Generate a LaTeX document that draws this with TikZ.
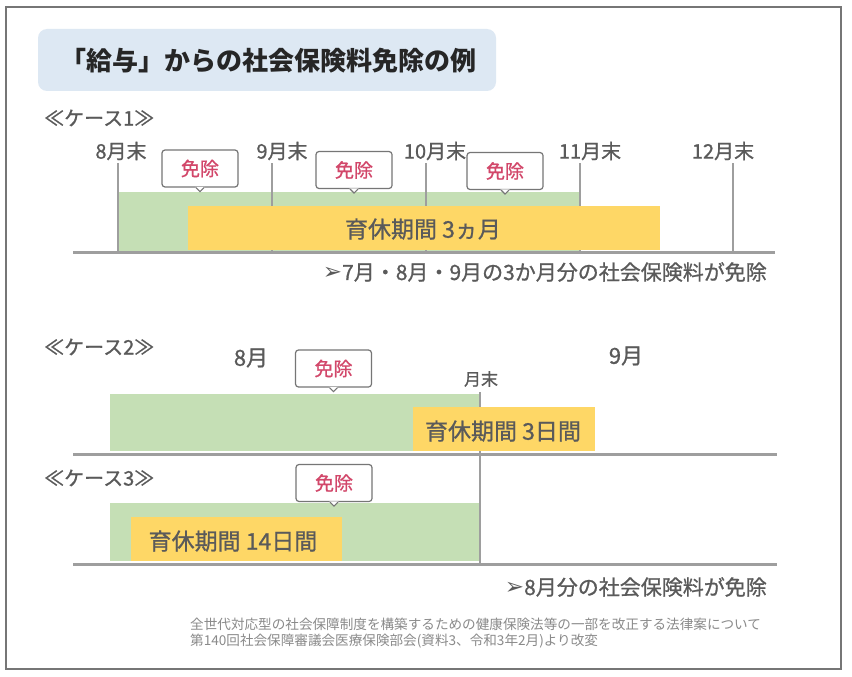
\documentclass[tikz,border=0pt]{standalone}
\usepackage{fontspec}
\setmainfont{Noto Sans CJK JP}
\newfontfamily\medfont[FakeBold=0.9]{Noto Sans CJK JP}
\newfontfamily\dejavu{DejaVu Sans}
\definecolor{framegray}{HTML}{767676}
\definecolor{linegray}{HTML}{9E9E9E}
\definecolor{txtgray}{HTML}{5A5A5A}
\definecolor{titlebg}{HTML}{DDE8F3}
\definecolor{barGreen}{HTML}{C5DFB5}
\definecolor{barYellow}{HTML}{FED766}
\definecolor{exred}{HTML}{D2476A}
\definecolor{notegray}{HTML}{8A8A8A}
\newcommand\fsz[1]{\fontsize{#1}{#1}\selectfont}
\newcommand\arrowmark{{\dejavu\fontsize{23}{23}\selectfont ➢}}
\newcommand\menjobox[3]{%
  \node[callbox] (#1) at (#2,#3) {免除};
  \fill[white] ([xshift=-4.6pt,yshift=0.8pt]#1.south) -- ([yshift=-4.2pt]#1.south) -- ([xshift=4.6pt,yshift=0.8pt]#1.south) -- cycle;
  \draw[calloutline] ([xshift=-4pt]#1.south) -- ([yshift=-4pt]#1.south) -- ([xshift=4pt]#1.south);
}
\begin{document}
\begin{tikzpicture}[x=1pt,y=-1pt,
  callbox/.style={draw=framegray, line width=1.2pt, fill=white, rounded corners=3pt,
    minimum width=76pt, minimum height=37pt, inner sep=0pt, text=exred, font=\medfont\fsz{19}},
  calloutline/.style={draw=framegray, line width=1.2pt},
  baseln/.style={draw=linegray, line width=3pt},
  tick/.style={draw=linegray, line width=2.5pt},
  caselbl/.style={text=txtgray, font=\medfont\fsz{20}, inner sep=0pt},
  monthlbl/.style={text=txtgray, font=\medfont\fsz{20}, inner sep=0pt},
  bartxt/.style={text=txtgray, font=\medfont\fsz{23}, inner sep=0pt},
  restxt/.style={text=txtgray, font=\medfont\fsz{21}, inner sep=0pt},
  notetxt/.style={text=notegray, font=\fsz{13.6}, inner sep=0pt, anchor=west}]
\useasboundingbox (0,0) rectangle (852,677);
\fill[white] (0,0) rectangle (852,677);
% outer frame
\draw[framegray, line width=2.5pt] (6,7) rectangle (841,669);
% title
\fill[titlebg, rounded corners=9pt] (38,29) rectangle (496,91);
\node[text=black!85, font=\fsz{26}\bfseries, inner sep=0pt] (title) at (268,61) {「給与」からの社会保険料免除の例};

% ---------- case 1 ----------
\node[caselbl, anchor=west] (c1) at (44,118) {≪ケース1≫};
\fill[barGreen] (118,192) rectangle (580,251);
\foreach \x/\n in {118/a,272/b,426/c,580/d,733/e}{
  \coordinate (t\n top) at (\x,163);
  \coordinate (t\n bot) at (\x,252);
  \draw[tick] (t\n top) -- (t\n bot);
}
\node[monthlbl] (m8) at (121,151) {8月末};
\node[monthlbl] (m9) at (282,151) {9月末};
\node[monthlbl] (m10) at (435,151) {10月末};
\node[monthlbl] (m11) at (590,151) {11月末};
\node[monthlbl] (m12) at (723,151) {12月末};
\fill[barYellow] (188,206) rectangle (660,250);
\node[bartxt] (y1) at (423,229) {育休期間 3ヵ月};
\coordinate (b1l) at (73,252);
\coordinate (b1r) at (775,252);
\draw[baseln] (b1l) -- (b1r);
\menjobox{e1}{200}{168.5}
\menjobox{e2}{354}{170}
\menjobox{e3}{505}{171}
\node[restxt, anchor=east] (r1) at (767,272) {\arrowmark 7月・8月・9月の3か月分の社会保険料が免除};

% ---------- case 2 ----------
\node[caselbl, anchor=west] (c2) at (44,347) {≪ケース2≫};
\node[monthlbl, font=\medfont\fsz{22}] (aug) at (251,358) {8月};
\node[monthlbl, font=\medfont\fsz{22}] (sep) at (626,356) {9月};
\node[monthlbl, font=\medfont\fsz{17}] (eom) at (481,379) {月末};
\fill[barGreen] (110,394) rectangle (479,451);
\coordinate (vtop) at (480,392);
\coordinate (vbot) at (480,565);
\draw[tick] (vtop) -- (vbot);
\fill[barYellow] (413,407) rectangle (595,451);
\node[bartxt] (y2) at (503,431) {育休期間 3日間};
\coordinate (b2l) at (73,454);
\coordinate (b2r) at (777,454);
\draw[baseln] (b2l) -- (b2r);
\menjobox{e4}{333.5}{368.5}

% ---------- case 3 ----------
\node[caselbl, anchor=west] (c3) at (44,478) {≪ケース3≫};
\fill[barGreen] (110,503) rectangle (479,561);
\fill[barYellow] (131,517) rectangle (342,561);
\node[bartxt] (y3) at (233,541) {育休期間 14日間};
\coordinate (b3l) at (73,564);
\coordinate (b3r) at (777,564);
\draw[baseln] (b3l) -- (b3r);
\menjobox{e5}{334}{483}
\node[restxt, anchor=east] (r2) at (767,587) {\arrowmark 8月分の社会保険料が免除};

% footnote
\node[notetxt] (n1) at (190,624) {全世代対応型の社会保障制度を構築するための健康保険法等の一部を改正する法律案について};
\node[notetxt] (n2) at (190,641) {第140回社会保障審議会医療保険部会(資料3、令和3年2月)より改変};
\end{tikzpicture}
\end{document}
